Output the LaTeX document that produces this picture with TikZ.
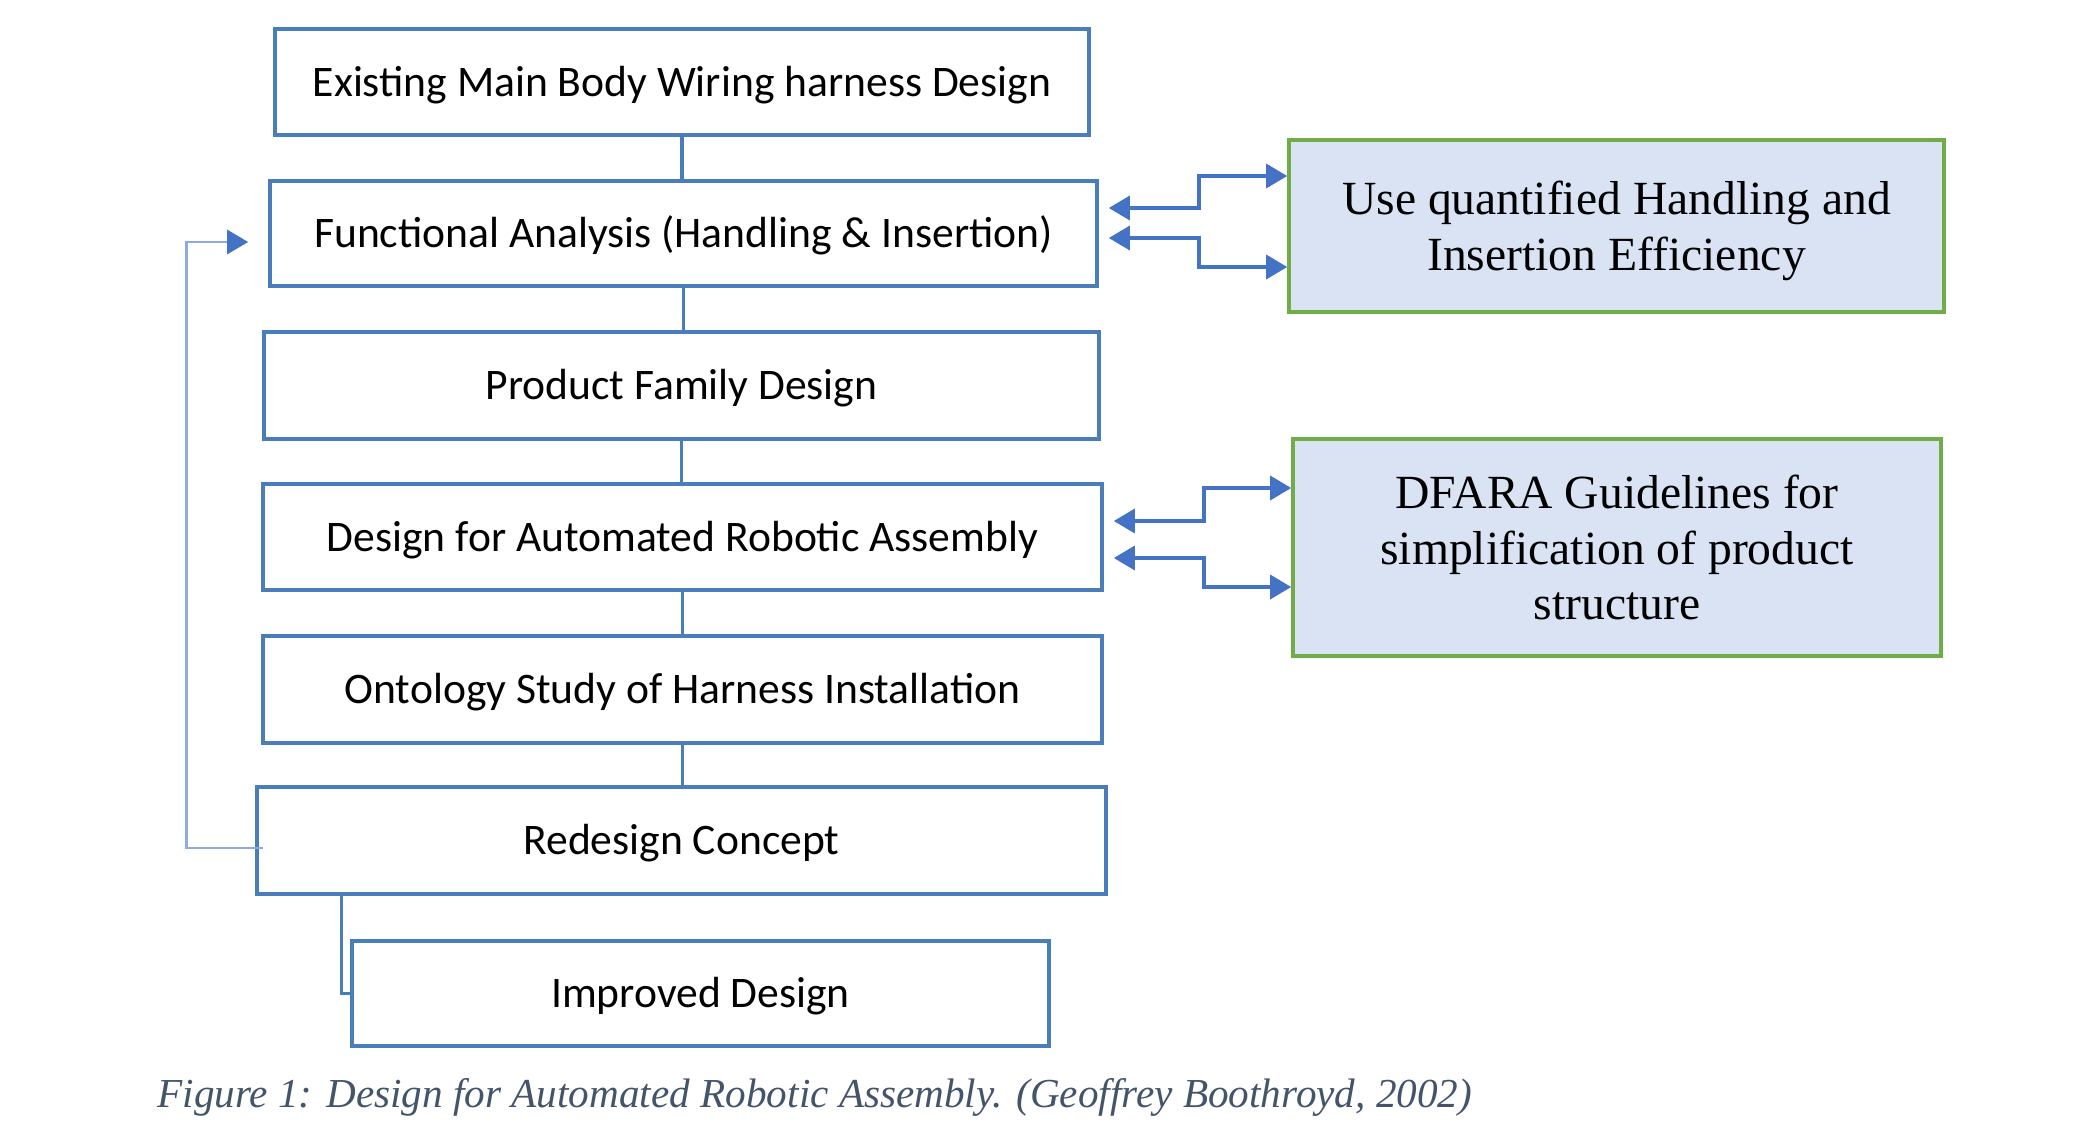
\documentclass[tikz,border=0pt]{standalone}
\usepackage{fontspec}
\setmainfont{Liberation Serif}
\newfontfamily\boxfont{Carlito}
\usetikzlibrary{arrows.meta,positioning}
\definecolor{boxblue}{HTML}{4A7EBB}
\definecolor{arrblue}{HTML}{4472C4}
\definecolor{fbblue}{HTML}{8FAADC}
\definecolor{leafgreen}{HTML}{70AD47}
\definecolor{paleblue}{HTML}{DAE3F3}
\definecolor{capgray}{HTML}{44546A}
\tikzset{>={Triangle[length=10.5pt,width=12pt]},
stepbox/.style={draw=boxblue,line width=1.8pt,inner sep=0pt,text height=17pt,text depth=2.8pt,font=\boxfont\fontsize{21.8}{26}\selectfont},
notebox/.style={draw=leafgreen,line width=1.8pt,fill=paleblue,align=center,inner sep=0pt,text depth=0pt,font=\fontsize{23.8}{27.8}\selectfont},
link/.style={boxblue,line width=1.6pt},
arr/.style={<->,arrblue,line width=1.7pt,shorten <=5pt},
fb/.style={->,fbblue,line width=1.4pt,shorten >=10pt,>={Triangle[length=10.5pt,width=12pt,color=arrblue]}}}

\begin{document}
\begin{tikzpicture}[x=0.5pt,y=-0.5pt]
\useasboundingbox (0,0) rectangle (2092,1145);
% main chain
\node[stepbox,minimum width=407pt,minimum height=53pt] (b1) at (682,82) {Existing Main Body Wiring harness Design};
\node[stepbox,minimum width=413.5pt,minimum height=52.5pt] (b2) at (683.5,233.5) {Functional Analysis (Handling \& Insertion)};
\node[stepbox,minimum width=417.5pt,minimum height=53.5pt] (b3) at (681.5,385.5) {Product Family Design};
\node[stepbox,minimum width=419.5pt,minimum height=53pt] (b4) at (682.5,537) {Design for Automated Robotic Assembly};
\node[stepbox,minimum width=419.5pt,minimum height=53.5pt] (b5) at (682.5,689.5) {Ontology Study of Harness Installation};
\node[stepbox,minimum width=424.5pt,minimum height=53.5pt] (b6) at (681.5,840.5) {Redesign Concept};
\node[stepbox,minimum width=348.5pt,minimum height=52.5pt] (b7) at (700.5,993.5) {Improved Design};
% side notes
\node[notebox,minimum width=327.5pt,minimum height=86pt] (g1) at (1616.5,226) {Use quantified Handling and\\Insertion Efficiency};
\node[notebox,minimum width=324pt,minimum height=108.5pt] (g2) at (1617,547.5) {DFARA Guidelines for\\simplification of product\\structure};
\foreach \a/\b in {b1/b2,b2/b3,b3/b4,b4/b5,b5/b6}
\draw[link] (\a.south) -- (\a.south |- \b.north);
\draw[link] ([xshift=43pt]b6.south west) |- (b7.west);
% arrows to the notes
\draw[arr] ([yshift=12.75pt]b2.east) -- ++(50pt,0) |- ([yshift=25pt]g1.west);
\draw[arr] ([yshift=-2.25pt]b2.east) -- ++(50pt,0) |- ([yshift=-20.5pt]g1.west);
\draw[arr] ([yshift=8pt]b4.east) -- ++(50pt,0) |- ([yshift=29.75pt]g2.west);
\draw[arr] ([yshift=-10.5pt]b4.east) -- ++(50pt,0) |- ([yshift=-19.75pt]g2.west);
% feedback
\draw[fb] ([xshift=4pt,yshift=-3.75pt]b6.west) -- ++(-38.5pt,0) |- ([yshift=-4.25pt]b2.west);
\node[anchor=west,inner sep=0pt,text=capgray,font=\itshape\fontsize{20.6}{25}\selectfont] (cap) at (157,1097) {Figure 1: Design for Automated Robotic Assembly. (Geoffrey Boothroyd, 2002)};
\end{tikzpicture}
\end{document}
